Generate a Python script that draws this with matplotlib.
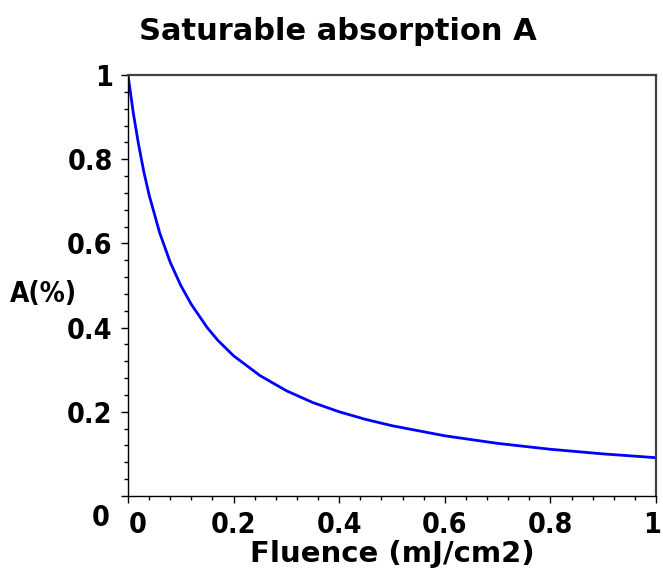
import matplotlib
matplotlib.use("Agg")
import matplotlib.pyplot as plt
import matplotlib.transforms as mtransforms
from matplotlib.ticker import MultipleLocator

# values
fluence = [0.0, 0.01, 0.02, 0.03, 0.04, 0.05, 0.06, 0.07, 0.08, 0.1, 0.12,
           0.15, 0.17, 0.2, 0.25, 0.3, 0.35, 0.4, 0.45, 0.5, 0.6, 0.7, 0.8,
           0.9, 1.0]
absorption = [1.0, 0.91, 0.835, 0.77, 0.715, 0.67, 0.625, 0.59, 0.555, 0.50,
              0.455, 0.40, 0.37, 0.333, 0.286, 0.25, 0.222, 0.20, 0.182,
              0.167, 0.143, 0.125, 0.111, 0.10, 0.091]
tick_vals = [0, 0.2, 0.4, 0.6, 0.8, 1]
tick_labels = ['0', '0.2', '0.4', '0.6', '0.8', '1']

plt.rcParams['font.family'] = ['DejaVu Sans']

fig = plt.figure(figsize=(6.63, 5.76), dpi=100)
ax = fig.add_axes([128 / 663, 1 - 496 / 576, (656 - 128) / 663, (496 - 75) / 576])

ax.plot(fluence, absorption, color='#0000ff', lw=2.0)

ax.set_xlim(0, 1)
ax.set_ylim(0, 1)
ax.set_xticks(tick_vals)
ax.set_yticks(tick_vals)
ax.set_xticklabels(tick_labels)
ax.set_yticklabels(tick_labels)
ax.xaxis.set_minor_locator(MultipleLocator(0.04))
ax.yaxis.set_minor_locator(MultipleLocator(0.04))
ax.tick_params(which='major', direction='out', length=5, width=1, color='black',
               labelsize=20.5)
ax.tick_params(which='minor', direction='out', length=3, width=1, color='black')
ax.tick_params(axis='x', pad=6)
ax.tick_params(axis='y', pad=6)
for lbl in ax.get_xticklabels() + ax.get_yticklabels():
    lbl.set_fontweight('bold')
    lbl.set_fontstretch('condensed')


def nudge(lbl, dx, dy):
    # shift a tick label by (dx, dy) points
    lbl.set_transform(lbl.get_transform() +
                      mtransforms.ScaledTranslation(dx / 72, dy / 72, fig.dpi_scale_trans))


# the reference puts the zero labels off their ticks, and pulls the last one in
nudge(ax.get_yticklabels()[0], -2, -14)
nudge(ax.get_xticklabels()[0], 7, 0)
nudge(ax.get_xticklabels()[-1], -3, 0)

for side in ['left', 'bottom']:
    ax.spines[side].set_color('black')
    ax.spines[side].set_linewidth(1.0)
for side in ['top', 'right']:
    ax.spines[side].set_color('#404040')
    ax.spines[side].set_linewidth(1.6)

fig.text(338 / 663, 1 - 31 / 576, 'Saturable absorption A', ha='center', va='center',
         fontsize=22, fontweight='bold')
fig.text(10 / 663, 1 - 294 / 576, 'A(%)', ha='left', va='center',
         fontsize=20, fontweight='bold', fontstretch='condensed')
fig.text(392 / 663, 1 - 554 / 576, 'Fluence (mJ/cm2)', ha='center', va='center',
         fontsize=21, fontweight='bold')

fig.savefig('out.png', dpi=100, facecolor='white')
